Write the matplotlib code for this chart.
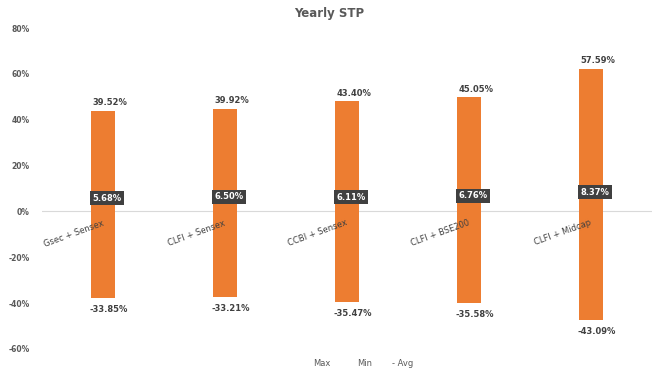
import matplotlib
matplotlib.use("Agg")
import matplotlib.pyplot as plt
import numpy as np

categories = ["Gsec + Sensex", "CLFI + Sensex", "CCBI + Sensex", "CLFI + BSE200", "CLFI + Midcap"]
max_vals = [39.52, 39.92, 43.40, 45.05, 57.59]
min_vals = [-33.85, -33.21, -35.47, -35.58, -43.09]
avg_vals = [5.68, 6.50, 6.11, 6.76, 8.37]
# bar extents as drawn in the reference picture
bar_top = [44.0, 44.7, 48.0, 49.8, 62.2]
bar_bottom = [-37.7, -37.3, -39.6, -39.8, -47.3]
yticks = [-60, -40, -20, 0, 20, 40, 60, 80]

ORANGE = "#ED7D31"
DARK = "#404040"
GREY = "#595959"
plt.rcParams['font.family'] = ['DejaVu Sans']

fig = plt.figure(figsize=(6.58, 3.76), dpi=100)
ax = fig.add_axes([42/658, 1-349/376, (652-42)/658, (349-28)/376])
x = np.arange(len(categories))
ax.bar(x, np.array(bar_top) - np.array(bar_bottom), bottom=bar_bottom, width=0.195, color=ORANGE, zorder=2)
ax.axhline(0, color="#D9D9D9", lw=0.8, zorder=1)
ax.set_xlim(-0.5, 4.5)
ax.set_ylim(-60, 80)
ax.set_yticks(yticks)
ax.set_yticklabels([f"{v}%" for v in yticks], fontsize=5.5, color=GREY, fontweight='bold')
ax.tick_params(axis='y', length=0, pad=9)
ax.set_xticks([])
for s in ax.spines.values():
    s.set_visible(False)

for i in range(len(categories)):
    ax.annotate(f"{max_vals[i]:.2f}%", (x[i], bar_top[i]), xytext=(5, 2.5), textcoords='offset points',
                ha='center', va='bottom', fontsize=6, fontweight='bold', color=DARK)
    ax.annotate(f"{min_vals[i]:.2f}%", (x[i], bar_bottom[i]), xytext=(4, -5), textcoords='offset points',
                ha='center', va='top', fontsize=6, fontweight='bold', color=DARK)
    ax.annotate(f"{avg_vals[i]:.2f}%", (x[i], avg_vals[i]), xytext=(3, 0), textcoords='offset points',
                ha='center', va='center', fontsize=6, fontweight='bold', color='white', zorder=4,
                bbox=dict(boxstyle='square,pad=0.3', fc=DARK, ec='none'))
    ax.annotate(categories[i], (x[i], 0), xytext=(-1, -5), textcoords='offset points',
                ha='right', va='top', rotation=20, rotation_mode='anchor',
                fontsize=6, color=DARK)

fig.text(329/658, 1-14/376, "Yearly STP", ha='center', va='center', fontsize=8.5, fontweight='bold', color=GREY)
for label, xp in [("Max", 322), ("Min", 365), ("- Avg", 403)]:
    fig.text(xp/658, 1-363/376, label, ha='center', va='center', fontsize=6, color=GREY)

fig.savefig("out.png", dpi=100)
